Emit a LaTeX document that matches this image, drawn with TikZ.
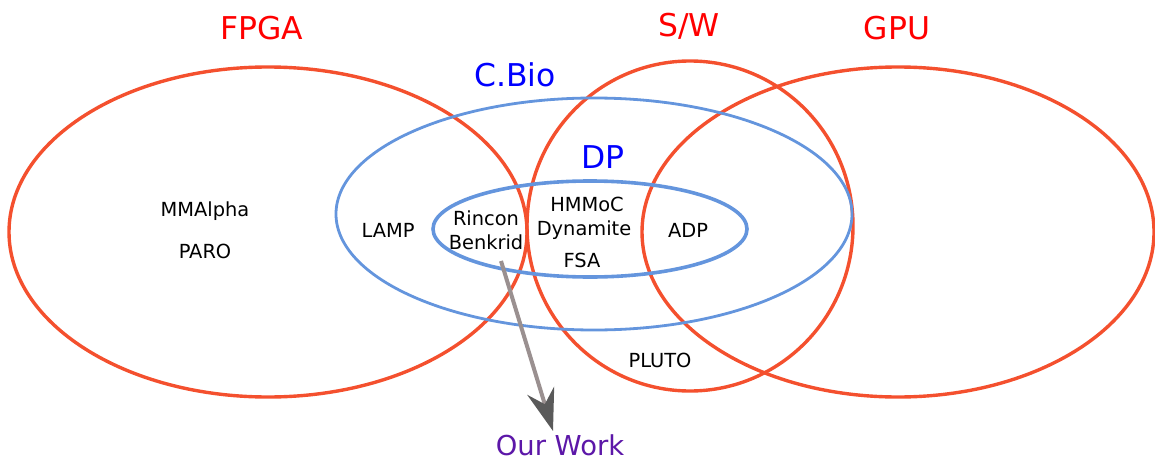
\documentclass[tikz,border=0pt]{standalone}
\usepackage{fontspec}
\setmainfont{DejaVu Sans}
\usetikzlibrary{arrows.meta}
\definecolor{setred}{HTML}{F4502E}
\definecolor{setblue}{HTML}{6495DD}
\definecolor{workpurple}{HTML}{5C17A8}
\definecolor{arrowgray}{HTML}{9A9090}
\definecolor{tipgray}{HTML}{5A5A5A}
\tikzset{
	hwset/.style={draw=setred, line width=1.7pt},
	bioset/.style={draw=setblue, line width=1.4pt},
	biglabel/.style={font=\fontsize{15.7pt}{18pt}\selectfont},
	tool/.style={font=\fontsize{9.7pt}{11pt}\selectfont, text=black}
}
\begin{document}
\begin{tikzpicture}[x=0.5pt, y=-0.5pt]
		\useasboundingbox (0, 0) rectangle (1155, 460);
		% hardware / software sets
		\draw[hwset] (268, 232) ellipse [x radius=259, y radius=165];
		\draw[hwset] (690, 226) ellipse [x radius=163, y radius=165];
		\draw[hwset] (898, 232) ellipse [x radius=256, y radius=165];
		% application sets
		\draw[bioset] (594, 214) ellipse [x radius=258, y radius=116];
		\draw[bioset, line width=1.8pt] (590, 229) ellipse [x radius=157, y radius=48];
		% set labels
		\node[biglabel, text=red] (FPGA) at (262, 28) {FPGA};
		\node[biglabel, text=red] (SW) at (689, 26) {S/W};
		\node[biglabel, text=red] (GPU) at (897, 28) {GPU};
		\node[biglabel, text=blue] (CBio) at (515, 75) {C.Bio};
		\node[biglabel, text=blue] (DP) at (603, 157) {DP};
		% tools
		\node[tool] (MMAlpha) at (205, 211) {MMAlpha};
		\node[tool] (PARO) at (205, 251) {PARO};
		\node[tool] (LAMP) at (388, 230) {LAMP};
		\node[tool] (Rincon) at (486, 218) {Rincon};
		\node[tool] (Benkrid) at (486, 242) {Benkrid};
		\node[tool] (HMMoC) at (587, 204) {HMMoC};
		\node[tool] (Dynamite) at (584, 230) {Dynamite};
		\node[tool] (FSA) at (582, 260) {FSA};
		\node[tool] (ADP) at (688, 230) {ADP};
		\node[tool] (PLUTO) at (660, 360) {PLUTO};
		% our work
		\node[font=\fontsize{13.7pt}{16pt}\selectfont, text=workpurple] (work) at (560, 445) {Our Work};
		\coordinate (src) at (501, 261);
		\coordinate (tip) at (553, 431);
		\draw[arrowgray, line width=2pt, -{Stealth[length=21pt, width=14pt, color=tipgray, inset=7pt]}] (src) -- (tip);
	\end{tikzpicture}
\end{document}
